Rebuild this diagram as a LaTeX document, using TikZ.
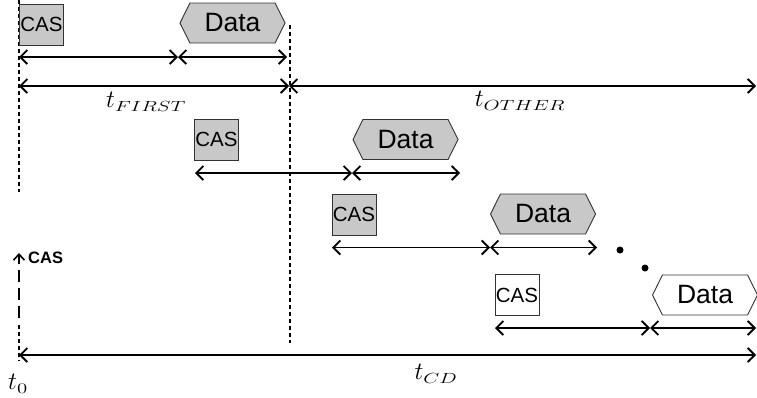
\documentclass[tikz,border=0pt]{standalone}
\usepackage{fontspec}
\setsansfont{Liberation Sans}
\usetikzlibrary{arrows.meta,shapes.symbols}
\definecolor{boxgray}{RGB}{200,200,200}
% time label: italic t with a widened subscript
\newcommand{\tlab}[1]{\scalebox{1.2}{$t_{\scalebox{1.2}[0.85]{$\scriptstyle #1$}}$}}
\tikzset{
  casbox/.style={draw=black!80, line width=0.9pt, fill=boxgray, inner sep=0pt,
    minimum width=44pt, minimum height=41pt, font=\sffamily\fontsize{20.5}{22}\selectfont},
  casopen/.style={casbox, fill=white},
  datahex/.style={draw=black!80, line width=0.9pt, fill=boxgray, signal, signal to=east and west,
    signal pointer angle=127, inner sep=0pt, minimum width=105pt, minimum height=40pt,
    font=\sffamily\fontsize{26.5}{28}\selectfont},
  dataopen/.style={datahex, fill=white},
  span/.style={line width=1.6pt, {Straight Barb[length=7pt,width=14pt,line width=1.8pt]}-{Straight Barb[length=7pt,width=14pt,line width=1.8pt]}},
  guide/.style={line width=1.2pt, dash pattern=on 4pt off 3pt},
  tlabel/.style={font=\fontsize{20.74}{24}\selectfont, inner sep=0pt},
  dot/.style={circle, fill=black, inner sep=0pt, minimum size=7pt}
}
\begin{document}
\begin{tikzpicture}[x=1pt,y=-1pt]
\useasboundingbox (0,0) rectangle (757,397);

% vertical guides
\draw[guide] (19,0) -- (19,192);
\draw[guide] (19,325) -- (19,361);
\draw[guide] (290,25) -- (290,343);

% CAS signal marker
\coordinate (sigfoot) at (19,318);
\coordinate (sighead) at (19,253);
\draw[line width=1.6pt, dash pattern=on 12pt off 6pt, -{Straight Barb[length=6pt,width=11pt,line width=1.6pt]}] (sigfoot) -- (sighead);
\node[anchor=west, inner sep=0pt, font=\sffamily\bfseries\fontsize{16.5}{18}\selectfont] (siglabel) at (28,258) {CAS};

% first attempt
\node[casbox] (cas1) at (41.5,24.5) {CAS};
\node[datahex] (data1) at (232.5,23) {Data};
\coordinate (a1) at (19,57); \coordinate (b1) at (178,57); \coordinate (c1) at (287,57);
\draw[span] (a1) -- (b1);
\draw[span] (b1) -- (c1);

% overall split
\coordinate (f0) at (19,86); \coordinate (f1) at (289,86); \coordinate (f2) at (756,86);
\draw[span] (f0) -- (f1);
\draw[span] (f1) -- (f2);
\node[tlabel] (tfirst) at (146,102) {\tlab{FIRST}};
\node[tlabel] (tother) at (520,101) {\tlab{OTHER}};

% second attempt
\node[casbox] (cas2) at (216.5,139.5) {CAS};
\node[datahex] (data2) at (405.5,139.5) {Data};
\coordinate (a2) at (195,173); \coordinate (b2) at (352,173); \coordinate (c2) at (460,173);
\draw[span] (a2) -- (b2);
\draw[span] (b2) -- (c2);

% third attempt
\node[casbox] (cas3) at (354,214.5) {CAS};
\node[datahex] (data3) at (543,214) {Data};
\coordinate (a3) at (332,247.5); \coordinate (b3) at (490,247.5); \coordinate (c3) at (597,247.5);
\draw[span] (a3) -- (b3);
\draw[span] (b3) -- (c3);

% continuation dots
\node[dot] (d1) at (620,250) {};
\node[dot] (d2) at (645,268) {};

% last attempt
\node[casopen] (cas4) at (517,295) {CAS};
\node[dataopen] (data4) at (705,295) {Data};
\coordinate (a4) at (495,328); \coordinate (b4) at (650,328); \coordinate (c4) at (756,328);
\draw[span] (a4) -- (b4);
\draw[span] (b4) -- (c4);

% total duration
\coordinate (g0) at (19,355); \coordinate (g1) at (756,355);
\draw[span] (g0) -- (g1);
\node[tlabel] (tcd) at (436,374) {\tlab{CD}};
\node[tlabel] (tzero) at (18,384) {\tlab{0}};
\end{tikzpicture}
\end{document}
